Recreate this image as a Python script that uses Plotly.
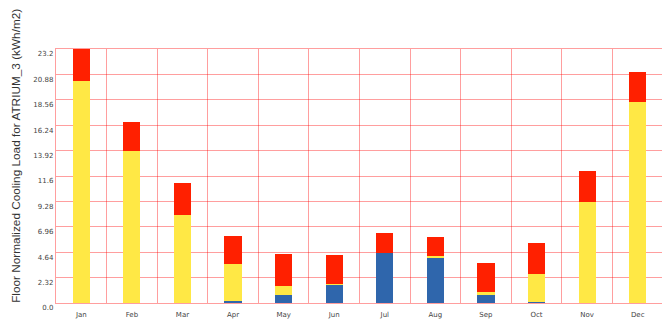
import plotly.graph_objects as go

months = ["Jan", "Feb", "Mar", "Apr", "May", "Jun", "Jul", "Aug", "Sep", "Oct", "Nov", "Dec"]
blue_vals = [0.0, 0.0, 0.0, 0.18, 0.76, 1.70, 4.57, 4.20, 0.73, 0.10, 0.0, 0.0]
yellow_vals = [20.3, 13.9, 8.04, 3.35, 0.79, 0.05, 0.0, 0.05, 0.25, 2.55, 9.25, 18.38]
red_vals = [2.9, 2.6, 2.92, 2.62, 2.9, 2.66, 1.79, 1.81, 2.64, 2.80, 2.83, 2.72]
ytick_vals = [0.0, 2.32, 4.64, 6.96, 9.28, 11.6, 13.92, 16.24, 18.56, 20.88, 23.2]
ytick_text = ["0.0", "2.32", "4.64", "6.96", "9.28", "11.6", "13.92", "16.24", "18.56", "20.88", "23.2"]
y_title = "Floor Normalized Cooling Load for ATRIUM_3 (kWh/m2)"

fig = go.Figure()
fig.add_trace(go.Bar(x=months, y=blue_vals, marker=dict(color="#2F66AC", line=dict(width=0))))
fig.add_trace(go.Bar(x=months, y=yellow_vals, marker=dict(color="#FFE845", line=dict(width=0))))
fig.add_trace(go.Bar(x=months, y=red_vals, marker=dict(color="#FF2000", line=dict(width=0))))

grid = "rgba(255,0,0,0.38)"
fig.update_layout(
    barmode="stack",
    bargap=0.66,
    showlegend=False,
    width=662,
    height=318,
    margin=dict(l=48, r=7, t=41, b=23, autoexpand=False),
    paper_bgcolor="white",
    plot_bgcolor="white",
    font=dict(family="DejaVu Sans", size=7, color="#444"),
    xaxis=dict(
        type="category",
        tickson="boundaries",
        showgrid=True,
        gridcolor=grid,
        gridwidth=1.4,
        ticks="",
        showline=True,
        linecolor=grid,
        linewidth=1.4,
        mirror=True,
        automargin=False,
        ticklabelstandoff=4,
        tickfont=dict(size=7, color="#444"),
    ),
    yaxis=dict(
        range=[0, 23.2],
        tickvals=ytick_vals,
        ticktext=ytick_text,
        showgrid=True,
        gridcolor=grid,
        gridwidth=1.4,
        zeroline=False,
        showline=True,
        linecolor=grid,
        linewidth=1.4,
        mirror=True,
        ticks="",
        automargin=False,
        ticklabelshift=5,
        tickfont=dict(size=7, color="#444"),
    ),
    annotations=[dict(
        text=y_title, textangle=-90, showarrow=False,
        xref="paper", yref="paper", x=-0.066, y=0.579,
        xanchor="center", yanchor="middle",
        font=dict(family="Liberation Sans", size=11.8, color="#333"),
    )],
)
fig.write_html("out.html")
